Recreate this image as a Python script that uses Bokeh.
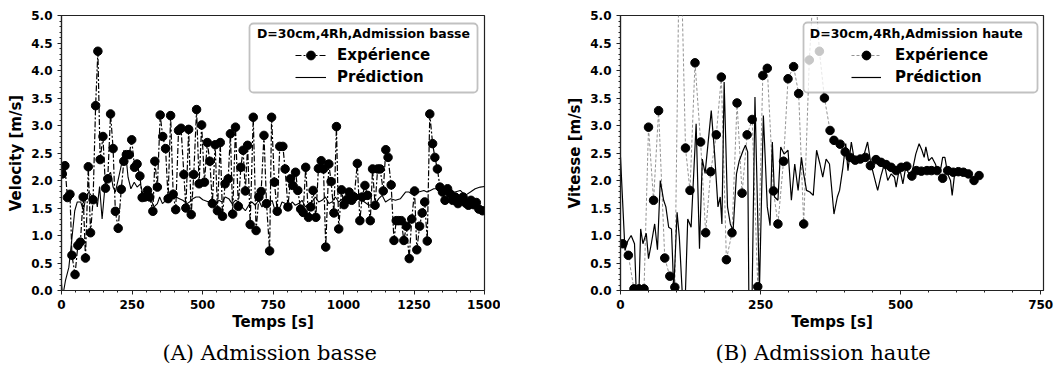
from bokeh.plotting import figure
from bokeh.models import (Range1d, SingleIntervalTicker, NumeralTickFormatter, Legend,
                          LegendItem, BoxAnnotation, Label, Title)
from bokeh.layouts import row
from bokeh.embed import file_html
from bokeh.resources import INLINE

# ---------------- data : (A) Admission basse ----------------
tA_exp = [3, 12, 21, 30, 37, 48, 58, 67, 77, 85,
          95, 103, 112, 121, 129, 137, 147, 156, 164, 174,
          183, 191, 201, 212, 221, 230, 240, 249, 259, 268,
          278, 286, 296, 305, 313, 324, 331, 340, 350, 359,
          369, 378, 387, 396, 405, 415, 424, 434, 441, 451,
          460, 469, 479, 488, 497, 507, 517, 526, 535, 545,
          553, 563, 571, 580, 591, 599, 607, 617, 627, 636,
          644, 652, 660, 669, 680, 690, 700, 708, 718, 727,
          738, 745, 755, 765, 774, 785, 793, 803, 812, 820,
          830, 838, 848, 857, 866, 876, 884, 892, 902, 911,
          921, 929, 937, 948, 956, 966, 975, 983, 993, 1002,
          1011, 1020, 1029, 1038, 1049, 1058, 1066, 1076, 1085, 1095,
          1103, 1112, 1121, 1130, 1141, 1150, 1158, 1169, 1179, 1187,
          1196, 1205, 1214, 1223, 1233, 1242, 1252, 1260, 1270, 1279,
          1288, 1297, 1306, 1316, 1324, 1333, 1342, 1351, 1360, 1369,
          1378, 1387, 1396, 1406, 1415, 1424, 1433, 1443, 1452, 1462,
          1471, 1480, 1493]
vA_exp = [2.12, 2.27, 1.69, 1.75, 0.64, 0.29, 0.82, 0.88, 1.70, 0.59,
          2.25, 1.05, 1.65, 3.36, 4.35, 2.38, 2.80, 1.86, 2.03, 3.21,
          2.58, 1.44, 1.13, 1.84, 2.35, 2.47, 2.47, 2.74, 2.24, 2.30,
          2.08, 1.69, 1.70, 1.82, 1.70, 1.44, 2.35, 1.88, 3.19, 2.80,
          2.58, 1.67, 3.18, 1.75, 1.47, 2.91, 2.95, 2.11, 1.50, 2.93,
          1.38, 2.11, 3.29, 1.94, 3.01, 1.97, 2.69, 2.35, 1.58, 2.65,
          1.45, 2.69, 1.35, 1.94, 2.03, 2.85, 1.39, 2.97, 1.53, 2.24,
          2.55, 1.81, 2.64, 1.20, 3.15, 1.09, 1.70, 1.80, 2.82, 1.58,
          0.72, 3.15, 1.97, 1.44, 2.62, 2.62, 2.21, 1.52, 2.03, 1.91,
          2.15, 1.82, 1.48, 1.42, 2.24, 1.33, 1.52, 1.82, 1.33, 2.22,
          2.36, 2.21, 0.79, 2.30, 1.98, 1.41, 2.98, 1.12, 1.83, 1.56,
          1.65, 1.79, 1.64, 1.70, 2.31, 1.27, 1.70, 1.91, 1.73, 1.27,
          2.21, 1.55, 2.21, 2.21, 1.81, 2.56, 2.42, 1.92, 0.91, 1.27,
          1.27, 1.27, 0.91, 1.17, 0.58, 1.30, 1.81, 0.74, 1.17, 1.41,
          1.61, 0.90, 3.21, 2.67, 2.42, 2.21, 1.88, 1.79, 1.64, 1.85,
          1.76, 1.64, 1.70, 1.58, 1.65, 1.70, 1.59, 1.55, 1.64, 1.56,
          1.60, 1.48, 1.45]

tA_pred = [0, 2, 8, 14, 26, 35, 47, 56, 68, 78, 85, 97, 109, 121, 127, 135, 144,
           154, 162, 174, 183, 191, 203, 213, 221, 229, 236, 246, 258, 268, 280,
           288, 300, 316, 328, 340, 348, 358, 370, 382, 394, 406, 418, 430, 445,
           454, 466, 477, 489, 501, 522, 534, 546, 558, 569, 581, 593, 605, 617,
           628, 640, 652, 664, 675, 687, 699, 711, 723, 735, 747, 759, 770, 782,
           794, 806, 818, 829, 841, 853, 865, 877, 888, 900, 912, 924, 936, 948,
           959, 971, 983, 995, 1019, 1042, 1066, 1090, 1113, 1125, 1137, 1149,
           1167, 1184, 1202, 1220, 1232, 1249, 1267, 1285, 1296, 1308, 1320,
           1332, 1349, 1361, 1379, 1396, 1414, 1432, 1450, 1467, 1485, 1500]
vA_pred = [0.13, 0.0, 0.0, 0.18, 0.42, 0.85, 1.45, 1.61, 1.61, 1.45, 1.67, 1.79,
           1.70, 1.70, 1.52, 1.89, 1.30, 1.88, 2.06, 2.15, 1.88, 1.79, 2.06, 2.30,
           2.55, 2.42, 2.06, 1.85, 1.97, 1.88, 1.94, 1.76, 1.70, 1.67, 1.52, 1.58,
           1.70, 1.58, 1.64, 1.70, 1.67, 1.70, 1.67, 1.64, 1.58, 1.61, 1.67, 1.70,
           1.70, 1.65, 1.61, 1.67, 1.58, 1.64, 1.61, 1.70, 1.67, 1.58, 1.64, 1.61,
           1.52, 1.45, 1.55, 1.61, 1.55, 1.64, 1.52, 1.61, 1.58, 1.64, 1.42, 1.45,
           1.61, 1.58, 1.52, 1.61, 1.55, 1.58, 1.64, 1.52, 1.58, 1.61, 1.70, 1.61,
           1.64, 1.70, 1.58, 1.61, 1.70, 1.61, 1.66, 1.70, 1.73, 1.64, 1.55, 1.58,
           1.67, 1.73, 1.61, 1.67, 1.64, 1.67, 1.79, 1.79, 1.73, 1.79, 1.82, 1.79,
           1.82, 1.85, 1.85, 1.79, 1.88, 1.79, 1.79, 1.82, 1.73, 1.79, 1.85, 1.88,
           1.89]

# ---------------- data : (B) Admission haute ----------------
tB_exp = [4, 14, 24, 33, 42, 50, 59, 68, 79, 88,
          97, 106, 116, 124, 133, 143, 152, 161, 171, 180,
          189, 199, 208, 217, 226, 235, 245, 254, 262, 273,
          281, 291, 299, 309, 318, 327, 337, 346, 355, 364,
          374, 381, 392, 401, 410, 419, 428, 437, 446, 456,
          465, 474, 483, 492, 501, 511, 520, 528, 537, 547,
          555, 565, 575, 584, 594, 603, 612, 621, 631, 640]
vB_exp = [0.85, 0.64, 0.03, 0.03, 0.03, 2.97, 1.64, 3.27, 0.59, 0.26,
          0.06, 7.00, 2.59, 1.82, 4.14, 2.70, 1.05, 2.16, 2.83, 3.88,
          0.56, 1.05, 3.41, 1.77, 2.83, 3.11, 0.07, 3.91, 4.04, 1.81,
          1.21, 2.35, 3.85, 4.07, 3.58, 1.21, 4.19, 5.80, 4.35, 3.50,
          2.91, 2.73, 2.66, 2.52, 2.42, 2.37, 2.39, 2.42, 2.27, 2.38,
          2.33, 2.29, 2.24, 2.18, 2.24, 2.26, 2.08, 2.18, 2.17, 2.18,
          2.18, 2.18, 2.04, 2.18, 2.15, 2.16, 2.15, 2.12, 2.00, 2.09]

tB_pred = [0, 8, 13, 19, 25, 28, 33, 36, 40, 46, 50, 55, 61, 66, 71, 77, 81, 86,
           91, 95, 101, 105, 110, 116, 120, 126, 135, 141, 146, 151, 162, 168,
           174, 178, 181, 185, 191, 196, 201, 207, 212, 219, 223, 227, 229, 235,
           240, 248, 255, 262, 267, 271, 275, 281, 286, 292, 299, 305, 311, 317,
           323, 327, 332, 338, 344, 350, 356, 361, 367, 373, 381, 387, 391, 397,
           402, 406, 412, 418, 424, 430, 435, 441, 446, 450, 456, 459, 465, 471,
           477, 483, 489, 492, 498, 504, 509, 515, 521, 527, 533, 538, 542, 545,
           550, 556, 562, 568, 572, 575, 579, 584, 589, 592, 597, 604, 613, 619]
vB_pred = [2.42, 0.73, 0.90, 1.00, 0.85, 0.0, 0.0, 1.12, 0.85, 1.04, 0.58, 0.85,
           1.21, 0.74, 2.00, 1.64, 1.52, 1.15, 1.12, 0.0, 1.42, 0.97, 0.0, 0.0,
           1.30, 1.15, 3.03, 0.76, 2.39, 2.13, 3.27, 2.48, 1.52, 1.70, 1.21, 3.79,
           1.52, 1.21, 1.09, 2.12, 2.36, 2.55, 2.64, 2.52, 0.0, 0.0, 3.52, 0.0,
           3.18, 1.52, 1.18, 2.70, 1.70, 1.64, 2.61, 2.48, 2.55, 1.64, 2.30, 1.82,
           2.42, 2.12, 1.82, 1.79, 1.73, 2.55, 2.30, 2.06, 2.39, 2.30, 1.39, 1.70,
           1.82, 2.24, 2.67, 2.18, 2.70, 2.33, 2.42, 2.39, 2.48, 2.70, 2.36, 2.18,
           1.94, 1.82, 2.09, 2.30, 2.00, 2.12, 2.06, 1.88, 2.24, 1.94, 2.24, 2.12,
           2.18, 2.48, 2.67, 2.55, 2.42, 2.61, 2.36, 2.42, 2.30, 2.12, 2.24, 2.42,
           2.42, 2.12, 2.00, 1.73, 2.18, 2.18, 2.15, 2.18]

# ---------------- labels ----------------
xlabel = "Temps [s]"
ylabel_A = "Velocity [m/s]"
ylabel_B = "Vitesse [m/s]"
legend_title_A = "D=30cm,4Rh,Admission basse"
legend_title_B = "D=30cm,4Rh,Admission  haute"
label_exp = "Expérience"
label_pred = "Prédiction"
caption_A = "(A) Admission basse"
caption_B = "(B) Admission haute"
x_max_A = 1500
x_max_B = 755
x_major_A = 250
x_major_B = 250
y_major = 0.5

FONT = "DejaVu Sans"
INK = "#222222"


def make_fig(x_max, x_major, ylabel, border_left, border_right, caption, cap_offset):
    p = figure(frame_width=423, frame_height=275,
               x_range=Range1d(0, x_max), y_range=Range1d(0, 5),
               output_backend="svg", toolbar_location=None,
               min_border_left=border_left, min_border_right=border_right,
               min_border_top=15, min_border_bottom=0)
    p.xgrid.visible = False
    p.ygrid.visible = False
    p.outline_line_color = INK
    p.outline_line_width = 1.2
    p.xaxis.ticker = SingleIntervalTicker(interval=x_major, num_minor_ticks=5)
    p.yaxis.ticker = SingleIntervalTicker(interval=y_major, num_minor_ticks=5)
    p.yaxis.formatter = NumeralTickFormatter(format="0.0")
    p.xaxis.axis_label = xlabel
    p.yaxis.axis_label = ylabel
    for ax in (p.xaxis[0], p.yaxis[0]):
        ax.major_label_text_font = FONT
        ax.major_label_text_font_style = "bold"
        ax.major_label_text_font_size = "12px"
        ax.major_label_text_color = "black"
        ax.axis_label_text_font = FONT
        ax.axis_label_text_font_style = "bold"
        ax.axis_label_text_font_size = "15px"
        ax.axis_label_text_color = "black"
        ax.axis_line_color = INK
        ax.axis_line_width = 1.2
        ax.major_tick_line_color = INK
        ax.minor_tick_line_color = INK
        ax.major_tick_in = 0
        ax.major_tick_out = 4
        ax.minor_tick_in = 0
        ax.minor_tick_out = 2
        ax.major_label_standoff = 5
        ax.axis_label_standoff = 3
    p.xaxis.axis_label_standoff = 1
    p.add_layout(Title(text=caption, align="left", text_font="DejaVu Serif",
                       text_font_size="21px", text_font_style="normal",
                       text_color="black", offset=cap_offset, standoff=11), "below")
    return p


def add_legend(p, r_exp, r_pred, title, box, title_xy, loc, glyph_w, standoff):
    l, r, t, b = box
    p.add_layout(BoxAnnotation(left=l, right=r, top=t, bottom=b,
                               left_units="screen", right_units="screen",
                               top_units="screen", bottom_units="screen",
                               fill_color="white", fill_alpha=0.78,
                               line_color="#333333", line_width=1.8,
                               border_radius=4))
    p.add_layout(Label(x=title_xy[0], y=title_xy[1], x_units="screen", y_units="screen",
                       text=title, text_font=FONT, text_font_style="bold",
                       text_font_size="12.5px", text_color="black",
                       text_align="center", text_baseline="middle"))
    leg = Legend(items=[LegendItem(label=label_exp, renderers=r_exp),
                        LegendItem(label=label_pred, renderers=r_pred)],
                 location=loc, padding=0, spacing=0, margin=0,
                 glyph_width=glyph_w, glyph_height=22, label_height=22,
                 label_standoff=standoff,
                 label_text_font=FONT, label_text_font_style="bold",
                 label_text_font_size="15px", label_text_color="black",
                 border_line_color=None, background_fill_alpha=0)
    p.add_layout(leg)


# ---------- (A) ----------
pA = make_fig(x_max_A, x_major_A, ylabel_A, 61, 16, caption_A, 101)
lA = pA.line(tA_exp, vA_exp, line_color="black", line_width=1.2, line_dash="6 2 2 2")
sA = pA.scatter(tA_exp, vA_exp, marker="circle", size=8.5, fill_color="black", line_color="black")
prA = pA.line(tA_pred, vA_pred, line_color="black", line_width=1.1)
add_legend(pA, [lA, sA], [prA], legend_title_A, (188, 416, 267, 198), (302, 257),
           (234, 202), 31, 11)

# ---------- (B) ----------
pB = make_fig(x_max_B, x_major_B, ylabel_B, 120, 12, caption_B, 95)
lB = pB.line(tB_exp, vB_exp, line_color="#777777", line_width=0.8, line_dash="3 2")
sB = pB.scatter(tB_exp, vB_exp, marker="circle", size=8.5, fill_color="black", line_color="black")
prB = pB.line(tB_pred, vB_pred, line_color="black", line_width=1.2)
add_legend(pB, [lB, sB], [prB], legend_title_B, (183, 417, 268, 198), (298, 257),
           (231, 202), 30, 14)

layout = row(pA, pB, spacing=0)
open("out.html", "w").write(file_html(layout, INLINE))
